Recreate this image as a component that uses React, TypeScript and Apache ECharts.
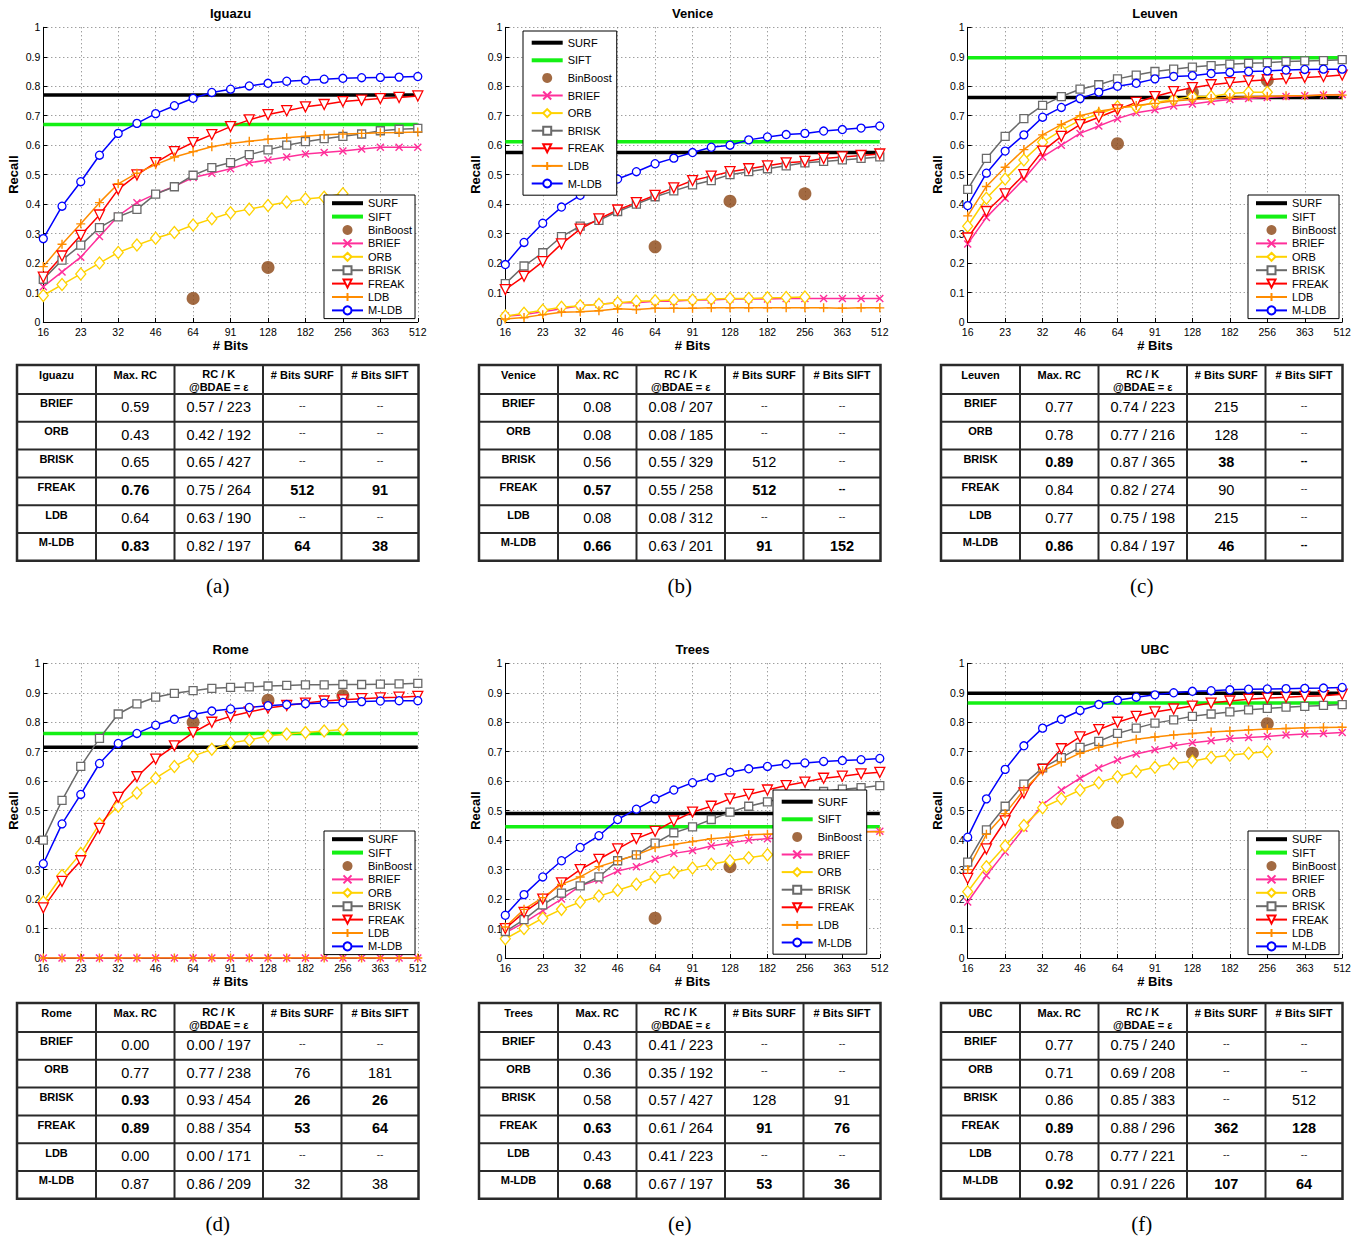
import React, { useEffect, useRef } from "react";
import * as echarts from "echarts";

// ---------- data ----------
const bits = [16, 19, 23, 27, 32, 38, 46, 54, 64, 76, 91, 108, 128, 152, 182, 216, 256, 304, 363, 431, 512];
const binBoostBits = [64, 128, 256];
const datasetNames = ["Iguazu", "Venice", "Leuven", "Rome", "Trees", "UBC"];
const captions = ["(a)", "(b)", "(c)", "(d)", "(e)", "(f)"];
const yTicks = [0, 0.1, 0.2, 0.3, 0.4, 0.5, 0.6, 0.7, 0.8, 0.9, 1];

const surfLevels = [0.77, 0.575, 0.762, 0.715, 0.49, 0.898];
const siftLevels = [0.67, 0.612, 0.897, 0.762, 0.445, 0.865];

// BinBoost at 64 / 128 / 256 bits (null = hidden behind legend)
const iguazuBinBoost = [0.08, 0.185, null];
const veniceBinBoost = [0.255, 0.41, 0.435];
const leuvenBinBoost = [0.605, 0.78, 0.82];
const romeBinBoost = [0.80, 0.875, 0.89];
const treesBinBoost = [0.135, 0.31, null];
const ubcBinBoost = [0.46, 0.695, 0.795];

// Iguazu
const iguazuBRIEF = [0.12, 0.17, 0.22, 0.29, 0.36, 0.405, 0.435, 0.46, 0.49, 0.505, 0.52, 0.54, 0.55, 0.56, 0.57, 0.575, 0.58, 0.587, 0.593, 0.593, 0.593];
const iguazuORB = [0.09, 0.127, 0.163, 0.2, 0.236, 0.261, 0.284, 0.304, 0.329, 0.35, 0.371, 0.383, 0.395, 0.407, 0.417, 0.423, 0.435];
const iguazuBRISK = [0.145, 0.21, 0.261, 0.32, 0.357, 0.382, 0.434, 0.459, 0.498, 0.524, 0.541, 0.568, 0.584, 0.6, 0.612, 0.622, 0.63, 0.638, 0.649, 0.654, 0.657];
const iguazuFREAK = [0.152, 0.224, 0.294, 0.363, 0.45, 0.499, 0.541, 0.578, 0.609, 0.636, 0.663, 0.686, 0.704, 0.717, 0.73, 0.738, 0.748, 0.753, 0.758, 0.762, 0.767];
const iguazuLDB = [0.188, 0.264, 0.333, 0.405, 0.469, 0.505, 0.534, 0.56, 0.578, 0.595, 0.606, 0.613, 0.62, 0.625, 0.63, 0.635, 0.638, 0.64, 0.642, 0.643, 0.645];
const iguazuMLDB = [0.283, 0.393, 0.476, 0.566, 0.64, 0.674, 0.707, 0.734, 0.759, 0.779, 0.79, 0.801, 0.81, 0.817, 0.82, 0.824, 0.827, 0.829, 0.83, 0.831, 0.833];

// Venice
const veniceBRIEF = [0.02, 0.025, 0.035, 0.045, 0.055, 0.06, 0.065, 0.065, 0.07, 0.07, 0.075, 0.075, 0.078, 0.078, 0.078, 0.08, 0.08, 0.08, 0.08, 0.08, 0.08];
const veniceORB = [0.02, 0.03, 0.04, 0.05, 0.055, 0.06, 0.065, 0.07, 0.072, 0.075, 0.075, 0.078, 0.08, 0.08, 0.082, 0.083, 0.085];
const veniceBRISK = [0.13, 0.19, 0.235, 0.29, 0.325, 0.345, 0.375, 0.4, 0.425, 0.445, 0.465, 0.48, 0.5, 0.51, 0.52, 0.53, 0.54, 0.545, 0.55, 0.555, 0.56];
const veniceFREAK = [0.11, 0.155, 0.205, 0.265, 0.315, 0.35, 0.38, 0.405, 0.43, 0.455, 0.48, 0.495, 0.51, 0.52, 0.53, 0.54, 0.545, 0.555, 0.56, 0.565, 0.57];
const veniceLDB = [0.01, 0.015, 0.025, 0.033, 0.035, 0.038, 0.045, 0.042, 0.047, 0.047, 0.047, 0.048, 0.048, 0.048, 0.048, 0.048, 0.048, 0.048, 0.047, 0.048, 0.048];
const veniceMLDB = [0.195, 0.27, 0.335, 0.39, 0.43, 0.46, 0.485, 0.51, 0.537, 0.556, 0.575, 0.593, 0.6, 0.618, 0.628, 0.636, 0.64, 0.648, 0.653, 0.658, 0.665];

// Leuven
const leuvenBRIEF = [0.265, 0.355, 0.42, 0.485, 0.56, 0.6, 0.64, 0.665, 0.69, 0.71, 0.72, 0.733, 0.74, 0.748, 0.755, 0.758, 0.762, 0.765, 0.768, 0.77, 0.772];
const leuvenORB = [0.325, 0.42, 0.485, 0.55, 0.61, 0.65, 0.685, 0.705, 0.73, 0.73, 0.745, 0.755, 0.765, 0.765, 0.775, 0.78, 0.78];
const leuvenBRISK = [0.45, 0.555, 0.63, 0.69, 0.735, 0.765, 0.79, 0.805, 0.825, 0.838, 0.85, 0.858, 0.865, 0.87, 0.875, 0.878, 0.88, 0.884, 0.886, 0.887, 0.89];
const leuvenFREAK = [0.285, 0.375, 0.435, 0.5, 0.58, 0.63, 0.67, 0.695, 0.72, 0.745, 0.765, 0.782, 0.795, 0.805, 0.812, 0.818, 0.822, 0.826, 0.83, 0.833, 0.838];
const leuvenLDB = [0.36, 0.46, 0.525, 0.585, 0.635, 0.67, 0.7, 0.715, 0.725, 0.735, 0.742, 0.75, 0.755, 0.758, 0.762, 0.764, 0.766, 0.768, 0.768, 0.77, 0.77];
const leuvenMLDB = [0.395, 0.505, 0.58, 0.635, 0.695, 0.728, 0.758, 0.78, 0.8, 0.81, 0.825, 0.833, 0.836, 0.843, 0.847, 0.85, 0.852, 0.855, 0.857, 0.858, 0.858];

// Rome
const romeBRIEF = [0, 0, 0, 0, 0, 0, 0, 0, 0, 0, 0, 0, 0, 0, 0, 0, 0, 0, 0, 0, 0];
const romeORB = [0.19, 0.28, 0.355, 0.455, 0.515, 0.56, 0.61, 0.65, 0.685, 0.708, 0.73, 0.74, 0.753, 0.76, 0.765, 0.77, 0.775];
const romeBRISK = [0.4, 0.535, 0.65, 0.745, 0.828, 0.862, 0.885, 0.898, 0.907, 0.915, 0.918, 0.92, 0.923, 0.925, 0.927, 0.927, 0.928, 0.928, 0.929, 0.93, 0.932];
const romeFREAK = [0.17, 0.26, 0.33, 0.44, 0.545, 0.615, 0.675, 0.72, 0.765, 0.8, 0.82, 0.835, 0.848, 0.857, 0.865, 0.872, 0.876, 0.88, 0.883, 0.885, 0.888];
const romeLDB = [0, 0, 0, 0, 0, 0, 0, 0, 0, 0, 0, 0, 0, 0, 0, 0, 0, 0, 0, 0, 0];
const romeMLDB = [0.32, 0.455, 0.555, 0.66, 0.728, 0.762, 0.79, 0.81, 0.826, 0.838, 0.845, 0.85, 0.856, 0.86, 0.863, 0.865, 0.867, 0.87, 0.872, 0.873, 0.873];

// Trees
const treesBRIEF = [0.085, 0.12, 0.16, 0.2, 0.245, 0.265, 0.295, 0.31, 0.335, 0.355, 0.365, 0.38, 0.39, 0.4, 0.405, 0.41, 0.415, 0.42, 0.425, 0.428, 0.43];
const treesORB = [0.065, 0.1, 0.135, 0.165, 0.19, 0.21, 0.23, 0.25, 0.275, 0.29, 0.305, 0.318, 0.33, 0.34, 0.35, 0.355, 0.36];
const treesBRISK = [0.09, 0.13, 0.18, 0.22, 0.245, 0.275, 0.33, 0.35, 0.39, 0.425, 0.445, 0.47, 0.495, 0.515, 0.53, 0.545, 0.558, 0.565, 0.573, 0.578, 0.585];
const treesFREAK = [0.1, 0.155, 0.2, 0.255, 0.3, 0.335, 0.37, 0.405, 0.43, 0.465, 0.495, 0.515, 0.54, 0.555, 0.57, 0.585, 0.597, 0.61, 0.617, 0.625, 0.63];
const treesLDB = [0.105, 0.165, 0.205, 0.25, 0.275, 0.31, 0.33, 0.35, 0.375, 0.385, 0.395, 0.405, 0.41, 0.418, 0.42, 0.423, 0.425, 0.427, 0.428, 0.428, 0.428];
const treesMLDB = [0.145, 0.215, 0.275, 0.33, 0.375, 0.415, 0.47, 0.505, 0.54, 0.57, 0.595, 0.612, 0.63, 0.642, 0.65, 0.658, 0.662, 0.667, 0.67, 0.673, 0.677];

// UBC
const ubcBRIEF = [0.19, 0.28, 0.36, 0.44, 0.52, 0.57, 0.61, 0.645, 0.672, 0.692, 0.707, 0.72, 0.73, 0.737, 0.745, 0.748, 0.752, 0.757, 0.76, 0.762, 0.765];
const ubcORB = [0.225, 0.31, 0.38, 0.45, 0.51, 0.54, 0.57, 0.595, 0.615, 0.633, 0.647, 0.66, 0.668, 0.68, 0.688, 0.695, 0.7];
const ubcBRISK = [0.325, 0.435, 0.515, 0.59, 0.645, 0.68, 0.715, 0.735, 0.762, 0.78, 0.797, 0.808, 0.82, 0.828, 0.835, 0.842, 0.847, 0.851, 0.854, 0.857, 0.86];
const ubcFREAK = [0.27, 0.37, 0.465, 0.56, 0.64, 0.71, 0.75, 0.775, 0.8, 0.82, 0.835, 0.845, 0.855, 0.865, 0.872, 0.878, 0.882, 0.885, 0.888, 0.89, 0.895];
const ubcLDB = [0.3, 0.42, 0.49, 0.57, 0.635, 0.665, 0.695, 0.715, 0.73, 0.742, 0.75, 0.757, 0.762, 0.767, 0.77, 0.774, 0.777, 0.779, 0.781, 0.782, 0.783];
const ubcMLDB = [0.41, 0.54, 0.64, 0.72, 0.78, 0.81, 0.84, 0.86, 0.875, 0.885, 0.893, 0.9, 0.905, 0.907, 0.91, 0.912, 0.913, 0.914, 0.915, 0.916, 0.918];

// Tables
const tableRowNames = ["BRIEF", "ORB", "BRISK", "FREAK", "LDB", "M-LDB"];
const tableHeaders = ["Max. RC", "RC / K", "@BDAE = ε", "# Bits SURF", "# Bits SIFT"];

const iguazuMaxRC = ["0.59", "0.43", "0.65", "0.76", "0.64", "0.83"];
const iguazuRCK = ["0.57 / 223", "0.42 / 192", "0.65 / 427", "0.75 / 264", "0.63 / 190", "0.82 / 197"];
const iguazuBitsSURF = ["--", "--", "--", "512", "--", "64"];
const iguazuBitsSIFT = ["--", "--", "--", "91", "--", "38"];
const iguazuBoldRows = [3, 5];

const veniceMaxRC = ["0.08", "0.08", "0.56", "0.57", "0.08", "0.66"];
const veniceRCK = ["0.08 / 207", "0.08 / 185", "0.55 / 329", "0.55 / 258", "0.08 / 312", "0.63 / 201"];
const veniceBitsSURF = ["--", "--", "512", "512", "--", "91"];
const veniceBitsSIFT = ["--", "--", "--", "--", "--", "152"];
const veniceBoldRows = [3, 5];

const leuvenMaxRC = ["0.77", "0.78", "0.89", "0.84", "0.77", "0.86"];
const leuvenRCK = ["0.74 / 223", "0.77 / 216", "0.87 / 365", "0.82 / 274", "0.75 / 198", "0.84 / 197"];
const leuvenBitsSURF = ["215", "128", "38", "90", "215", "46"];
const leuvenBitsSIFT = ["--", "--", "--", "--", "--", "--"];
const leuvenBoldRows = [2, 5];

const romeMaxRC = ["0.00", "0.77", "0.93", "0.89", "0.00", "0.87"];
const romeRCK = ["0.00 / 197", "0.77 / 238", "0.93 / 454", "0.88 / 354", "0.00 / 171", "0.86 / 209"];
const romeBitsSURF = ["--", "76", "26", "53", "--", "32"];
const romeBitsSIFT = ["--", "181", "26", "64", "--", "38"];
const romeBoldRows = [2, 3];

const treesMaxRC = ["0.43", "0.36", "0.58", "0.63", "0.43", "0.68"];
const treesRCK = ["0.41 / 223", "0.35 / 192", "0.57 / 427", "0.61 / 264", "0.41 / 223", "0.67 / 197"];
const treesBitsSURF = ["--", "--", "128", "91", "--", "53"];
const treesBitsSIFT = ["--", "--", "91", "76", "--", "36"];
const treesBoldRows = [3, 5];

const ubcMaxRC = ["0.77", "0.71", "0.86", "0.89", "0.78", "0.92"];
const ubcRCK = ["0.75 / 240", "0.69 / 208", "0.85 / 383", "0.88 / 296", "0.77 / 221", "0.91 / 226"];
const ubcBitsSURF = ["--", "--", "--", "362", "--", "107"];
const ubcBitsSIFT = ["--", "--", "512", "128", "--", "64"];
const ubcBoldRows = [3, 5];

// ---------- assembly ----------
const curves = [
  [iguazuBRIEF, iguazuORB, iguazuBRISK, iguazuFREAK, iguazuLDB, iguazuMLDB],
  [veniceBRIEF, veniceORB, veniceBRISK, veniceFREAK, veniceLDB, veniceMLDB],
  [leuvenBRIEF, leuvenORB, leuvenBRISK, leuvenFREAK, leuvenLDB, leuvenMLDB],
  [romeBRIEF, romeORB, romeBRISK, romeFREAK, romeLDB, romeMLDB],
  [treesBRIEF, treesORB, treesBRISK, treesFREAK, treesLDB, treesMLDB],
  [ubcBRIEF, ubcORB, ubcBRISK, ubcFREAK, ubcLDB, ubcMLDB],
];
const binBoosts = [iguazuBinBoost, veniceBinBoost, leuvenBinBoost, romeBinBoost, treesBinBoost, ubcBinBoost];
const tables = [
  [iguazuMaxRC, iguazuRCK, iguazuBitsSURF, iguazuBitsSIFT, iguazuBoldRows],
  [veniceMaxRC, veniceRCK, veniceBitsSURF, veniceBitsSIFT, veniceBoldRows],
  [leuvenMaxRC, leuvenRCK, leuvenBitsSURF, leuvenBitsSIFT, leuvenBoldRows],
  [romeMaxRC, romeRCK, romeBitsSURF, romeBitsSIFT, romeBoldRows],
  [treesMaxRC, treesRCK, treesBitsSURF, treesBitsSIFT, treesBoldRows],
  [ubcMaxRC, ubcRCK, ubcBitsSURF, ubcBitsSIFT, ubcBoldRows],
];

const FONT = '"Liberation Sans", Arial, Helvetica, sans-serif';
const SERIF = '"Liberation Serif", "Times New Roman", serif';

const methodStyles = [
  { name: "BRIEF", color: "#ff2f9a", symbol: "path://M0,0L10,10M10,0L0,10", size: 7, open: false, rotate: 0 },
  { name: "ORB", color: "#ffd200", symbol: "diamond", size: [10, 12], open: true, rotate: 0 },
  { name: "BRISK", color: "#6a6a6a", symbol: "rect", size: 8, open: true, rotate: 0 },
  { name: "FREAK", color: "#ff0000", symbol: "triangle", size: 10, open: true, rotate: 180 },
  { name: "LDB", color: "#ff8c00", symbol: "path://M5,0L5,10M0,5L10,5", size: 9, open: false, rotate: 0 },
  { name: "M-LDB", color: "#0000ff", symbol: "circle", size: 8, open: true, rotate: 0 },
];
const legendData = [
  { name: "SURF", icon: "path://M0,0H31V4H0Z" },
  { name: "SIFT", icon: "path://M0,0H31V4H0Z" },
  { name: "BinBoost", icon: "circle" },
  ...methodStyles.map((m) => ({ name: m.name })),
];

// layout
const colX = [43.3, 505.3, 967.7];
const rowY = [27.3, 663.3];
const PW = 374.5;
const PH = 294.7;
const tableX = [17, 479, 941];
const tableY = [365, 1003];
const colOff = [0, 79, 157.5, 246, 324.5, 401.5];
const rowOff = [0, 29, 56.8, 84.6, 112.4, 140.2, 168, 195.8];
const legendPos = [
  { left: 324, top: 195, gap: 2.4, pad: [2.7, 3, 2.7, 7] },
  { left: 523, top: 31, gap: 6.6, pad: [6.2, 5, 6.2, 7.7] },
  { left: 1248, top: 195, gap: 2.4, pad: [2.7, 3, 2.7, 7] },
  { left: 324, top: 831, gap: 2.4, pad: [2.7, 3, 2.7, 7] },
  { left: 773, top: 790, gap: 6.6, pad: [6.2, 5, 6.2, 7.7] },
  { left: 1248, top: 831, gap: 2.4, pad: [2.7, 3, 2.7, 7] },
];

function buildOption() {
  const grid: any[] = [];
  const xAxis: any[] = [];
  const yAxis: any[] = [];
  const series: any[] = [];
  const legend: any[] = [];
  const graphic: any[] = [];

  for (let p = 0; p < 6; p++) {
    const c = p % 3;
    const r = Math.floor(p / 3);
    const gx = colX[c];
    const gy = rowY[r];
    grid.push({ left: gx, top: gy, width: PW, height: PH });
    xAxis.push({
      type: "category",
      gridIndex: p,
      data: bits.map(String),
      boundaryGap: false,
      axisLine: { show: true, onZero: false, lineStyle: { color: "#000", width: 1 } },
      axisTick: { show: true, inside: true, length: 4, interval: 1, lineStyle: { color: "#000" } },
      axisLabel: { interval: 1, fontSize: 10.5, color: "#000", margin: 4, fontFamily: FONT },
      splitLine: { show: true, interval: 1, lineStyle: { color: "#777", width: 1, type: [1, 3] } },
    });
    yAxis.push({
      type: "value",
      gridIndex: p,
      min: yTicks[0],
      max: yTicks[yTicks.length - 1],
      interval: 0.1,
      axisLine: { show: true, lineStyle: { color: "#000", width: 1 } },
      axisTick: { show: true, inside: true, length: 4, lineStyle: { color: "#000" } },
      axisLabel: {
        fontSize: 10.5,
        color: "#000",
        margin: 3,
        fontFamily: FONT,
        formatter: (v: number) => String(+v.toFixed(1)),
      },
      splitLine: { show: true, lineStyle: { color: "#777", width: 1, type: [1, 3] } },
    });

    const last = bits.length - 1;
    series.push({
      name: "SURF",
      type: "line",
      xAxisIndex: p,
      yAxisIndex: p,
      data: [[0, surfLevels[p]], [last, surfLevels[p]]],
      symbol: "none",
      color: "#000",
      lineStyle: { color: "#000", width: 3.5 },
      silent: true,
    });
    series.push({
      name: "SIFT",
      type: "line",
      xAxisIndex: p,
      yAxisIndex: p,
      data: [[0, siftLevels[p]], [last, siftLevels[p]]],
      symbol: "none",
      color: "#14f014",
      lineStyle: { color: "#14f014", width: 3.5 },
      silent: true,
    });
    const bb = binBoosts[p];
    series.push({
      name: "BinBoost",
      type: "scatter",
      xAxisIndex: p,
      yAxisIndex: p,
      data: binBoostBits
        .map((b, k) => [bits.indexOf(b), bb[k]])
        .filter((d) => d[1] !== null),
      symbol: "circle",
      symbolSize: 13,
      itemStyle: { color: "#8b4513" },
      silent: true,
    });
    methodStyles.forEach((m, k) => {
      series.push({
        name: m.name,
        type: "line",
        xAxisIndex: p,
        yAxisIndex: p,
        data: curves[p][k],
        symbol: m.symbol,
        symbolSize: m.size,
        symbolRotate: m.rotate,
        showAllSymbol: true,
        color: m.color,
        lineStyle: { color: m.color, width: 1.5 },
        itemStyle: m.open
          ? { color: "#fff", borderColor: m.color, borderWidth: 1.3 }
          : { color: m.color, borderColor: m.color, borderWidth: 1.4 },
        silent: true,
      });
    });

    const lp = legendPos[p];
    legend.push({
      data: legendData,
      orient: "vertical",
      left: lp.left,
      top: lp.top,
      padding: lp.pad,
      itemGap: lp.gap,
      itemWidth: 31,
      itemHeight: 10,
      selectedMode: false,
      backgroundColor: "#fff",
      borderColor: "#000",
      borderWidth: 1,
      textStyle: { fontSize: 11, lineHeight: 10, color: "#000", fontFamily: FONT },
    });

    // title and axis names
    graphic.push({
      type: "text",
      x: gx + PW / 2,
      y: gy - 14,
      style: { text: datasetNames[p], fontSize: 13, fontWeight: "bold", fontFamily: FONT, fill: "#000", align: "center", verticalAlign: "middle" },
    });
    graphic.push({
      type: "text",
      x: gx + PW / 2,
      y: gy + PH + 23,
      style: { text: "# Bits", fontSize: 13, fontWeight: "bold", fontFamily: FONT, fill: "#000", align: "center", verticalAlign: "middle" },
    });
    graphic.push({
      type: "text",
      x: gx - 30,
      y: gy + PH / 2,
      rotation: Math.PI / 2,
      style: { text: "Recall", fontSize: 13, fontWeight: "bold", fontFamily: FONT, fill: "#000", align: "center", verticalAlign: "middle" },
    });

    // table
    const tx = tableX[c];
    const ty = tableY[r];
    const tw = colOff[colOff.length - 1];
    const th = rowOff[rowOff.length - 1];
    graphic.push({ type: "rect", shape: { x: tx, y: ty, width: tw, height: th }, style: { fill: "#fff", stroke: "#2a2a2a", lineWidth: 2.5 } });
    for (let k = 1; k < colOff.length - 1; k++) {
      graphic.push({ type: "line", shape: { x1: tx + colOff[k], y1: ty, x2: tx + colOff[k], y2: ty + th }, style: { stroke: "#2a2a2a", lineWidth: 2 } });
    }
    for (let k = 1; k < rowOff.length - 1; k++) {
      graphic.push({ type: "line", shape: { x1: tx, y1: ty + rowOff[k], x2: tx + tw, y2: ty + rowOff[k] }, style: { stroke: "#2a2a2a", lineWidth: 2 } });
    }
    const cx = (k: number) => tx + (colOff[k] + colOff[k + 1]) / 2;
    const hdr = (text: string, x: number, y: number) =>
      graphic.push({ type: "text", x, y, style: { text, fontSize: 11, fontWeight: "bold", fontFamily: FONT, fill: "#000", align: "center", verticalAlign: "middle" } });
    hdr(datasetNames[p], cx(0), ty + 9.5);
    hdr(tableHeaders[0], cx(1), ty + 9.5);
    hdr(tableHeaders[1], cx(2), ty + 9);
    hdr(tableHeaders[2], cx(2), ty + 22);
    hdr(tableHeaders[3], cx(3), ty + 9.5);
    hdr(tableHeaders[4], cx(4), ty + 9.5);

    const [maxRC, rck, bSurf, bSift, boldRows] = tables[p] as any[];
    for (let rr = 0; rr < tableRowNames.length; rr++) {
      const rTop = ty + rowOff[rr + 1];
      const isBold = boldRows.indexOf(rr) >= 0;
      hdr(tableRowNames[rr], cx(0), rTop + 9.3);
      const cells = [maxRC[rr], rck[rr], bSurf[rr], bSift[rr]];
      cells.forEach((t: string, k: number) => {
        const bold = isBold && k !== 1;
        const dash = t === "--";
        graphic.push({
          type: "text",
          x: cx(k + 1),
          y: rTop + (dash ? 11 : 12.8),
          style: {
            text: t,
            fontSize: dash ? 10 : 14.5,
            fontWeight: bold ? "bold" : "normal",
            fontFamily: FONT,
            fill: dash && !bold ? "#333" : "#000",
            align: "center",
            verticalAlign: "middle",
          },
        });
      });
    }
    graphic.push({
      type: "text",
      x: tx + tw / 2,
      y: ty + th + 25,
      style: { text: captions[p], fontSize: 21, fontFamily: SERIF, fill: "#000", align: "center", verticalAlign: "middle" },
    });
  }

  return {
    animation: false,
    backgroundColor: "#fff",
    grid,
    xAxis,
    yAxis,
    series,
    legend,
    graphic: { elements: graphic },
  };
}

export default function App() {
  const ref = useRef<HTMLDivElement>(null);
  useEffect(() => {
    document.body.style.margin = "0";
    if (!ref.current) return;
    const chart = echarts.init(ref.current, undefined, { renderer: "svg", width: 1371, height: 1239 });
    chart.setOption(buildOption() as any);
    return () => chart.dispose();
  }, []);
  return <div ref={ref} style={{ width: 1371, height: 1239 }} />;
}
